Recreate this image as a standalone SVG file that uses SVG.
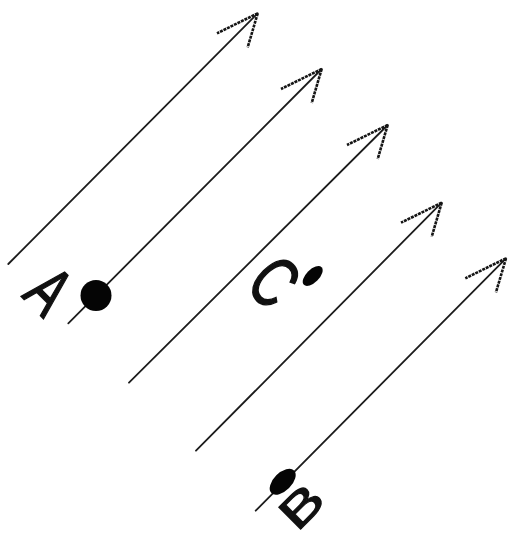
<svg xmlns="http://www.w3.org/2000/svg" xmlns:xlink="http://www.w3.org/1999/xlink" width="509" height="535" viewBox="0 0 509 535">
  <style>
    .shaft { stroke: #1c1c1c; stroke-width: 1.8; fill: none; stroke-linecap: round; }
    .barb { stroke: #151515; stroke-width: 2.6; fill: none; stroke-dasharray: 3 0.9; stroke-linecap: butt; }
    .lbl { font-family: "Liberation Sans", Arial, sans-serif; fill: #111; stroke: #111; stroke-width: 1.1; text-anchor: middle; }
    .dot { fill: #050505; }
  </style>
  <defs>
    <g id="head">
      <path class="barb" d="M0,0 L-40.7,20"/>
      <path class="barb" d="M0,0 L-10,34"/>
    </g>
  </defs>
  <rect width="509" height="535" fill="#ffffff"/>

  <g id="connectors">
    <line class="shaft" x1="8.3" y1="264" x2="257.7" y2="13.3"/>
    <use xlink:href="#head" x="257.7" y="13.3"/>
    <line class="shaft" x1="68.3" y1="323.3" x2="321.7" y2="69"/>
    <use xlink:href="#head" x="321.7" y="69"/>
    <line class="shaft" x1="129" y1="382.7" x2="387.7" y2="125"/>
    <use xlink:href="#head" x="387.7" y="125"/>
    <line class="shaft" x1="196" y1="450.7" x2="441.7" y2="202.7"/>
    <use xlink:href="#head" x="441.7" y="202.7"/>
    <line class="shaft" x1="255.7" y1="510.7" x2="506" y2="258.3"/>
    <use xlink:href="#head" x="506" y="258.3"/>
  </g>

  <g id="node-A">
    <circle class="dot" cx="96" cy="295.5" r="15.5"/>
    <text class="lbl" font-size="48" x="0" y="17.2" transform="translate(50,290) matrix(1.225,-0.225,-0.225,1.225,0,0) rotate(45)">A</text>
  </g>

  <g id="node-C">
    <ellipse class="dot" cx="0" cy="0" rx="12.5" ry="6.5" transform="translate(312.7,276) rotate(-45)"/>
    <text class="lbl" font-size="50" x="0" y="18" transform="translate(275,281) matrix(1.225,-0.225,-0.225,1.225,0,0) rotate(45)">C</text>
  </g>

  <g id="node-B">
    <ellipse class="dot" cx="0" cy="0" rx="16" ry="9" transform="translate(282.7,481.7) rotate(-45)"/>
    <text class="lbl" font-size="45" x="0" y="16.1" transform="translate(301,506) matrix(1.225,-0.225,-0.225,1.225,0,0) rotate(-45)">B</text>
  </g>
</svg>
